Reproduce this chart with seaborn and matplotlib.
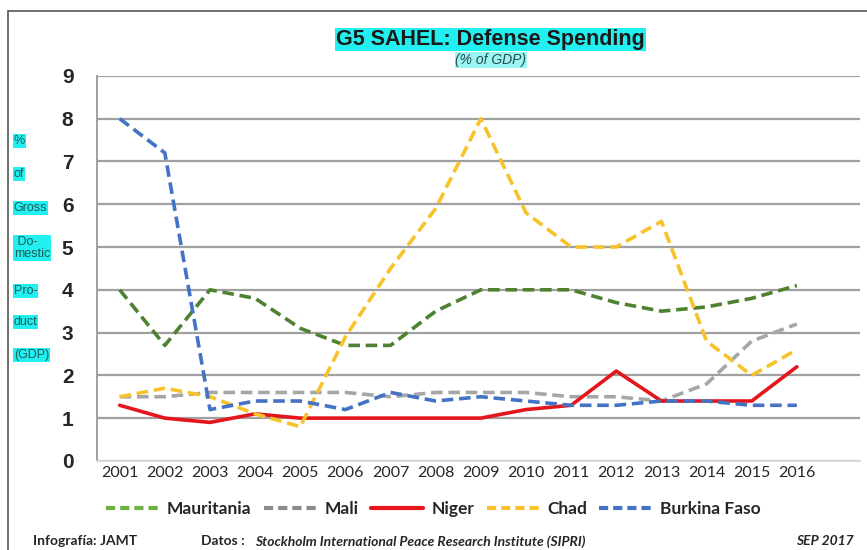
import pandas as pd
import seaborn as sns
import matplotlib.pyplot as plt
from matplotlib.lines import Line2D

years = list(range(2001, 2017))
mauritania = [4.0, 2.7, 4.0, 3.8, 3.1, 2.7, 2.7, 3.5, 4.0, 4.0, 4.0, 3.7, 3.5, 3.6, 3.8, 4.1]
mali = [1.5, 1.5, 1.6, 1.6, 1.6, 1.6, 1.5, 1.6, 1.6, 1.6, 1.5, 1.5, 1.4, 1.8, 2.8, 3.2]
niger = [1.3, 1.0, 0.9, 1.1, 1.0, 1.0, 1.0, 1.0, 1.0, 1.2, 1.3, 2.1, 1.4, 1.4, 1.4, 2.2]
chad = [1.5, 1.7, 1.5, 1.1, 0.8, 2.9, 4.5, 5.9, 8.0, 5.8, 5.0, 5.0, 5.6, 2.8, 2.0, 2.6]
burkina = [8.0, 7.2, 1.2, 1.4, 1.4, 1.2, 1.6, 1.4, 1.5, 1.4, 1.3, 1.3, 1.4, 1.4, 1.3, 1.3]

countries = ["Mauritania", "Mali", "Niger", "Chad", "Burkina Faso"]
series = [mauritania, mali, niger, chad, burkina]
colors = {"Mauritania": "#4F8230", "Mali": "#A6A6A6", "Niger": "#E5151C",
          "Chad": "#F7C22A", "Burkina Faso": "#4472C4"}
legend_colors = {"Mauritania": "#6DB33F", "Mali": "#8C8C8C", "Niger": "#E5151C",
                 "Chad": "#F7C22A", "Burkina Faso": "#4472C4"}
dash = (3.2, 1.6)
dashes = {"Mauritania": dash, "Mali": dash, "Niger": "", "Chad": dash, "Burkina Faso": dash}

df = pd.DataFrame({
    "year": years * len(countries),
    "value": [v for s in series for v in s],
    "country": [c for c in countries for _ in years],
})

sns.set_theme(style="white")
plt.rcParams["font.family"] = ["Liberation Sans", "DejaVu Sans"]

fig = plt.figure(figsize=(8.67, 5.5), dpi=100)
ax = fig.add_axes([0.112, 0.162, 0.88, 0.70])

sns.lineplot(data=df, x="year", y="value", hue="country", style="country",
             palette=colors, dashes=dashes, linewidth=2.6, legend=False, ax=ax)

ax.set_ylim(0, 9)
ax.set_xlim(2000.5, 2017.4)
ax.set_yticks(range(0, 10))
ax.set_xticks(years)
ax.set_xticklabels([str(y) for y in years], fontsize=11.5, family="Lato")
for t in ax.get_yticklabels():
    t.set_fontsize(15)
    t.set_fontweight("bold")
ax.tick_params(axis="y", pad=17, length=0)
ax.tick_params(axis="x", pad=4, length=0)
ax.set_xlabel("")
ax.set_ylabel("")
ax.yaxis.grid(True, color="#A0A0A0", linewidth=1.6)
for s in ["top", "right"]:
    ax.spines[s].set_visible(False)
ax.spines["left"].set_color("#A0A0A0")
ax.spines["bottom"].set_color("#D8D8D8")
ax.spines["left"].set_linewidth(1.4)
ax.spines["bottom"].set_linewidth(1.4)

# outer frame
fig.add_artist(Line2D([0.009, 0.009], [0, 0.98], color="#555555", lw=1.2))
fig.add_artist(Line2D([0.009, 1.0], [0.98, 0.98], color="#555555", lw=1.2))

cyan = "#22F0F0"
fig.text(0.566, 0.928, "G5 SAHEL: Defense Spending", ha="center", va="center",
         fontsize=15.5, fontweight="bold", color="#1A1A1A",
         bbox=dict(facecolor=cyan, edgecolor="none", pad=1))
fig.text(0.566, 0.891, "(% of GDP)", ha="center", va="center", fontsize=10,
         style="italic", color="#2A4A4A",
         bbox=dict(facecolor="#9AF5F5", edgecolor="none", pad=0.5))

ylab = [("%", 141), ("of", 174), ("Gross", 208), (" Do-\nmestic", 248),
        ("Pro-", 291), ("duct", 322), ("(GDP)", 355)]
for txt, py in ylab:
    fig.text(0.016, 1 - py / 550, txt, ha="left", va="center", fontsize=9,
             color="#1E5A5A", linespacing=0.95,
             bbox=dict(facecolor=cyan, edgecolor="none", pad=0.6))

handles = [Line2D([0], [0], color=legend_colors[c], lw=3,
                  linestyle=(0, (2.2, 1.2)) if dashes[c] else "-") for c in countries]
fig.legend(handles, countries, loc="center", bbox_to_anchor=(0.5, 0.074), ncol=5,
           frameon=False, prop={"family": "Lato", "size": 12.5, "weight": "bold"},
           handlelength=3.0, columnspacing=0.7, handletextpad=0.5)

foot = {"ha": "left", "va": "center", "fontsize": 10, "family": "Lato", "fontweight": "bold"}
fig.text(0.038, 0.016, "Infografía: JAMT", **foot)
fig.text(0.232, 0.016, "Datos : ", **foot)
fig.text(0.294, 0.016, "Stockholm International Peace Research Institute (SIPRI)",
         style="italic", **foot)
fig.text(0.985, 0.016, "SEP 2017", ha="right", va="center", fontsize=10,
         family="Lato", fontweight="bold", style="italic")

fig.savefig("out.png", dpi=100)
